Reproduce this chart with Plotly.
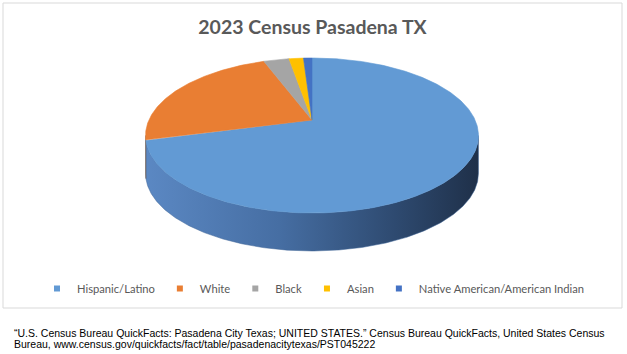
import numpy as np
import plotly.graph_objects as go

# ---- data ----
categories = ["Hispanic/Latino", "White", "Black", "Asian", "Native American/American Indian"]
values = [70.8, 23.5, 3.0, 1.7, 1.0]
top_colors = ["#629AD4", "#E97E33", "#A5A5A5", "#FFC000", "#4472C4"]
side_colors = ["#3F6596", "#7B6A60", "#7A7A7A", "#C29100", "#2F5597"]

title_text = "2023 Census Pasadena TX"
source_line1 = ("“U.S. Census Bureau QuickFacts: Pasadena City Texas; UNITED STATES.” "
                "Census Bureau QuickFacts, United States Census")
source_line2 = "Bureau, www.census.gov/quickfacts/fact/table/pasadenacitytexas/PST045222"

# ---- geometry of the 3D-looking pie (pixel space) ----
W, H = 627, 354
CX, K = 312.0, 163.1
A, B, C = 50.4, 120.0, -0.2
DEPTH = 38.0


def project(phi_deg, drop=0.0):
    phi = np.radians(phi_deg)
    X = np.sin(phi)
    t = -np.cos(phi)
    den = 1 + C * t
    return CX + K * X / den, (A * t + B) / den + drop


vis_lo = np.degrees(np.arccos(C))      # right horizontal extreme
vis_hi = 360 - vis_lo                  # left horizontal extreme

total = float(sum(values))
bounds = np.concatenate([[0], np.cumsum(values)]) / total * 360.0

fig = go.Figure()

# side walls
for i, cat in enumerate(categories):
    s, e = bounds[i], bounds[i + 1]
    lo, hi = max(s, vis_lo), min(e, vis_hi)
    if hi <= lo:
        continue
    n = max(4, int((hi - lo) * 2))
    ang = np.linspace(lo, hi, n)
    tx, ty = project(ang)
    bx, by = project(ang[::-1], DEPTH)
    xs = np.concatenate([tx, bx, tx[:1]])
    ys = np.concatenate([ty, by, ty[:1]])
    kw = {}
    if i == 0:
        kw["fillgradient"] = dict(type="horizontal",
                                  colorscale=[[0, "#5B88C3"], [0.4, "#466EA3"],
                                              [0.75, "#2E4A70"], [1, "#1F3049"]])
    fig.add_trace(go.Scatter(x=xs, y=ys, mode="lines", fill="toself",
                             fillcolor=side_colors[i],
                             line=dict(width=0.5, color=side_colors[i]),
                             hoverinfo="skip", showlegend=False, **kw))

# top slices
for i, cat in enumerate(categories):
    s, e = bounds[i], bounds[i + 1]
    n = max(4, int((e - s) * 2))
    ang = np.linspace(s, e, n)
    ax, ay = project(ang)
    cx0 = np.array([CX])
    cy0 = np.array([B])
    xs = np.concatenate([cx0, ax, cx0])
    ys = np.concatenate([cy0, ay, cy0])
    fig.add_trace(go.Scatter(x=xs, y=ys, mode="lines", fill="toself",
                             fillcolor=top_colors[i],
                             line=dict(width=0.6, color=top_colors[i]),
                             name=cat, hoverinfo="name", showlegend=False))

# legend entries
for i, cat in enumerate(categories):
    fig.add_trace(go.Scatter(x=[None], y=[None], mode="markers",
                             marker=dict(symbol="square", size=6, color=top_colors[i]),
                             name=cat, showlegend=True))

fig.update_layout(
    width=W, height=H,
    margin=dict(l=0, r=0, t=0, b=0),
    paper_bgcolor="white", plot_bgcolor="white",
    xaxis=dict(range=[0, W], visible=False, fixedrange=True),
    yaxis=dict(range=[H, 0], visible=False, fixedrange=True),
    title=dict(text=title_text, x=312.5 / W, xanchor="center",
               y=1 - 27.5 / H, yref="container", yanchor="middle",
               font=dict(family="Lato", size=19.5, color="#595959", weight="bold")),
    legend=dict(orientation="h", x=0.5, xanchor="center",
                y=1 - 288.5 / H, yanchor="middle",
                font=dict(family="Lato", size=11.2, color="#595959"),
                itemwidth=30, bgcolor="rgba(0,0,0,0)"),
    shapes=[dict(type="rect", xref="paper", yref="paper",
                 x0=3 / W, x1=622 / W, y0=1 - 308 / H, y1=1 - 3 / H,
                 line=dict(color="#D9D9D9", width=1), layer="below")],
    annotations=[
        dict(text=source_line1, xref="paper", yref="paper", x=12 / W, y=1 - 332.5 / H,
             xanchor="left", yanchor="middle", showarrow=False,
             font=dict(family="Liberation Sans", size=10.5, color="#000000")),
        dict(text=source_line2, xref="paper", yref="paper", x=12 / W, y=1 - 343.5 / H,
             xanchor="left", yanchor="middle", showarrow=False,
             font=dict(family="Liberation Sans", size=10.5, color="#000000")),
    ],
)

fig.write_html("out.html")
